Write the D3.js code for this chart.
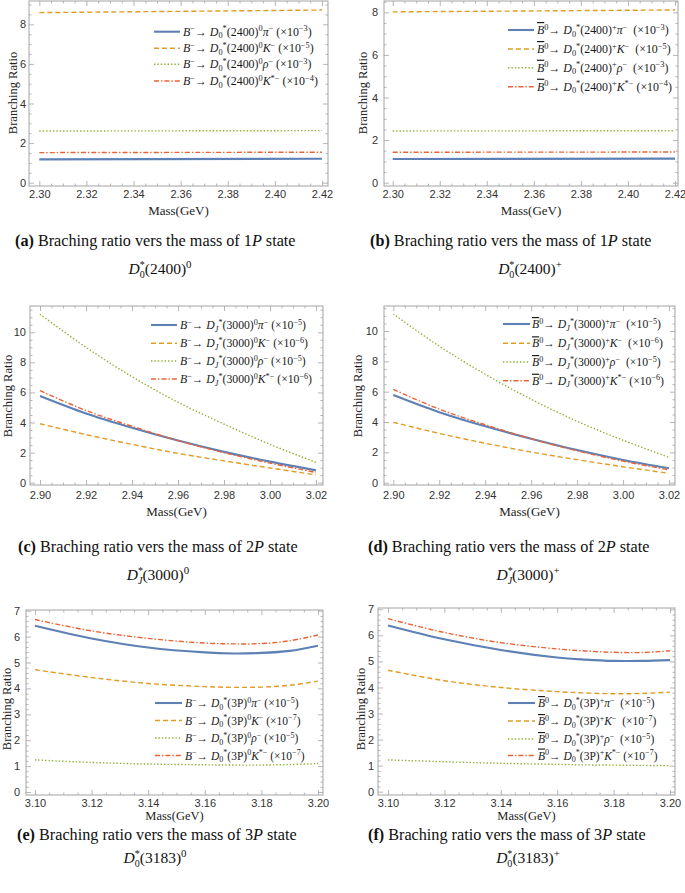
<!DOCTYPE html>
<html><head><meta charset="utf-8">
<script src="https://cdn.jsdelivr.net/npm/d3@7"></script>
<style>body{margin:0;background:#fff} svg text{white-space:pre}</style>
</head><body>
<svg id="chart" width="685" height="893"></svg>
<script>
// ---------------- DATA ----------------
const massA = [2.30, 2.42];
const A_pi = [1.18, 1.21], A_K = [8.59, 8.72], A_rho = [2.61, 2.63], A_Kst = [1.52, 1.54];
const massB = [2.30, 2.42];
const B_pi = [1.11, 1.13], B_K = [8.02, 8.11], B_rho = [2.43, 2.44], B_Kst = [1.43, 1.44];

const massC = [2.90, 2.92, 2.94, 2.96, 2.98, 3.00, 3.02];
const C_pi  = [5.76, 4.60, 3.65, 2.80, 2.05, 1.40, 0.82];
const C_K   = [3.92, 3.20, 2.55, 1.95, 1.45, 0.98, 0.52];
const C_rho = [11.20, 9.00, 7.05, 5.35, 3.90, 2.55, 1.35];
const C_Kst = [6.12, 4.80, 3.75, 2.80, 2.00, 1.30, 0.68];

const massD = [2.90, 2.92, 2.94, 2.96, 2.98, 3.00, 3.02];
const D_pi  = [5.78, 4.65, 3.72, 2.90, 2.15, 1.50, 0.95];
const D_K   = [3.98, 3.25, 2.60, 2.02, 1.52, 1.05, 0.62];
const D_rho = [11.12, 9.00, 7.15, 5.50, 4.05, 2.80, 1.67];
const D_Kst = [6.15, 4.85, 3.82, 2.90, 2.10, 1.42, 0.85];

const massE = [3.10, 3.12, 3.14, 3.16, 3.17, 3.18, 3.19, 3.20];
const E_pi  = [6.42, 5.93, 5.58, 5.39, 5.35, 5.37, 5.45, 5.65];
const E_K   = [4.72, 4.42, 4.19, 4.07, 4.04, 4.05, 4.12, 4.28];
const E_rho = [1.24, 1.14, 1.08, 1.05, 1.04, 1.04, 1.06, 1.10];
const E_Kst = [6.66, 6.22, 5.93, 5.75, 5.72, 5.73, 5.84, 6.06];

const massF = [3.10, 3.12, 3.14, 3.16, 3.17, 3.18, 3.19, 3.20];
const F_pi  = [6.38, 5.85, 5.44, 5.15, 5.07, 5.02, 5.02, 5.05];
const F_K   = [4.66, 4.26, 4.00, 3.84, 3.79, 3.76, 3.77, 3.82];
const F_rho = [1.22, 1.15, 1.09, 1.05, 1.03, 1.02, 1.01, 1.00];
const F_Kst = [6.64, 6.11, 5.72, 5.48, 5.40, 5.35, 5.34, 5.41];

const xTicksA = [2.30, 2.32, 2.34, 2.36, 2.38, 2.40, 2.42];
const xTicksC = [2.90, 2.92, 2.94, 2.96, 2.98, 3.00, 3.02];
const xTicksE = [3.10, 3.12, 3.14, 3.16, 3.18, 3.20];
const yTicksA = [0, 2, 4, 6, 8];
const yTicksC = [0, 2, 4, 6, 8, 10];
const yTicksE = [0, 1, 2, 3, 4, 5, 6, 7];

const legA = ["{B}^{−}→ {D}_{0}^{*}(2400)^{0}{π}^{−} (×10^{−3})",
              "{B}^{−}→ {D}_{0}^{*}(2400)^{0}{K}^{−} (×10^{−5})",
              "{B}^{−}→ {D}_{0}^{*}(2400)^{0}{ρ}^{−} (×10^{−3})",
              "{B}^{−}→ {D}_{0}^{*}(2400)^{0}{K}^{*−} (×10^{−4})"];
const legB = ["~{B}^{0}→ {D}_{0}^{*}(2400)^{+}{π}^{−}  (×10^{−3})",
              "~{B}^{0}→ {D}_{0}^{*}(2400)^{+}{K}^{−}  (×10^{−5})",
              "~{B}^{0}→ {D}_{0}^{*}(2400)^{+}{ρ}^{−}  (×10^{−3})",
              "~{B}^{0}→ {D}_{0}^{*}(2400)^{+}{K}^{*−} (×10^{−4})"];
const legC = ["{B}^{−}→ {D}_[J]^{*}(3000)^{0}{π}^{−} (×10^{−5})",
              "{B}^{−}→ {D}_[J]^{*}(3000)^{0}{K}^{−} (×10^{−6})",
              "{B}^{−}→ {D}_[J]^{*}(3000)^{0}{ρ}^{−} (×10^{−5})",
              "{B}^{−}→ {D}_[J]^{*}(3000)^{0}{K}^{*−} (×10^{−6})"];
const legD = ["~{B}^{0}→ {D}_[J]^{*}(3000)^{+}{π}^{−}  (×10^{−5})",
              "~{B}^{0}→ {D}_[J]^{*}(3000)^{+}{K}^{−}  (×10^{−6})",
              "~{B}^{0}→ {D}_[J]^{*}(3000)^{+}{ρ}^{−}  (×10^{−5})",
              "~{B}^{0}→ {D}_[J]^{*}(3000)^{+}{K}^{*−} (×10^{−6})"];
const legE = ["{B}^{−}→ {D}_{0}^{*}(3P)^{0}{π}^{−} (×10^{−5})",
              "{B}^{−}→ {D}_{0}^{*}(3P)^{0}{K}^{−} (×10^{−7})",
              "{B}^{−}→ {D}_{0}^{*}(3P)^{0}{ρ}^{−} (×10^{−5})",
              "{B}^{−}→ {D}_{0}^{*}(3P)^{0}{K}^{*−} (×10^{−7})"];
const legF = ["~{B}^{0}→ {D}_{0}^{*}(3P)^{+}{π}^{−}  (×10^{−5})",
              "~{B}^{0}→ {D}_{0}^{*}(3P)^{+}{K}^{−}  (×10^{−7})",
              "~{B}^{0}→ {D}_{0}^{*}(3P)^{+}{ρ}^{−}  (×10^{−5})",
              "~{B}^{0}→ {D}_{0}^{*}(3P)^{+}{K}^{*−} (×10^{−7})"];

const capLetters = ["(a)", "(b)", "(c)", "(d)", "(e)", "(f)"];
const capStates  = ["1", "1", "2", "2", "3", "3"];
const capSub     = ["0", "0", "J", "J", "0", "0"];
const capName    = ["(2400)", "(2400)", "(3000)", "(3000)", "(3183)", "(3183)"];
const capCharge  = ["0", "+", "0", "+", "0", "+"];

// ---------------- LAYOUT ----------------
const SERIF = "'Liberation Serif','DejaVu Serif',serif";
const SANS = "'Liberation Sans',Arial,Helvetica,sans-serif";
const FRAME = "#a3a3a3";
const styles = [
  {color: "#5E81B5", width: 2.1, dash: null},
  {color: "#E19C24", width: 1.4, dash: "5,3"},
  {color: "#8FB032", width: 1.4, dash: "1.4,2"},
  {color: "#EB6235", width: 1.4, dash: "5,2,1.4,2"}
];

const layouts = [
  {f:[29,1,328,186], xr:[[2.30,39.3],[2.42,322]], yr:[[0,182.7],[8,24.3]], xMinor:0.005, yMinor:0.5,
   tickBase:198, yLabR:26, xTitleY:215, xTitleFs:13, yTitle:[17,93], legFs:11.9, leg:{lx0:154,lx1:180,tx:183,rows:[31.7,48.3,64.3,81]},
   cap:{x:15,y:246,l2x:160,l2y:274}},
  {f:[384,1,678,186], xr:[[2.30,392.7],[2.42,675]], yr:[[0,182.7],[8,12.3]], xMinor:0.005, yMinor:0.5,
   tickBase:198, yLabR:378, xTitleY:215, xTitleFs:13, yTitle:[367,93], legFs:11.9, leg:{lx0:508,lx1:534,tx:537,rows:[30,49,67.7,86.7]},
   cap:{x:370,y:246,l2x:530,l2y:274}},
  {f:[30,306,323,485], xr:[[2.90,40],[3.02,316]], yr:[[0,482.7],[10,332.3]], xMinor:0.005, yMinor:0.5,
   tickBase:499, yLabR:26, xTitleY:516, xTitleFs:13, yTitle:[12,396], legFs:11.7, leg:{lx0:151,lx1:177,tx:180,rows:[325,343.3,361,379]},
   cap:{x:18,y:552,l2x:158,l2y:580}},
  {f:[384,306,675,485], xr:[[2.90,393.3],[3.02,669]], yr:[[0,482.7],[10,331]], xMinor:0.005, yMinor:0.5,
   tickBase:499, yLabR:378, xTitleY:516, xTitleFs:13, yTitle:[362,396], legFs:11.7, leg:{lx0:503,lx1:530,tx:532,rows:[324,343.3,362,380.7]},
   cap:{x:368,y:552,l2x:528,l2y:580}},
  {f:[26,610,323,795], xr:[[3.10,35],[3.20,318]], yr:[[0,792],[7,610.7]], xMinor:0.005, yMinor:0.2,
   tickBase:806.5, yLabR:20, xTitleY:820, xTitleFs:12.5, yTitle:[11,709], legFs:11.5, leg:{lx0:155,lx1:182,tx:185,rows:[703,720.5,738,755.5]},
   cap:{x:17,y:840,l2x:155,l2y:863}},
  {f:[378,608,675,795], xr:[[3.10,388],[3.20,670]], yr:[[0,791.7],[7,609.3]], xMinor:0.005, yMinor:0.2,
   tickBase:806.5, yLabR:374, xTitleY:820, xTitleFs:12.5, yTitle:[365,709], legFs:11.5, leg:{lx0:508,lx1:535,tx:538,rows:[703,721,739,755.5]},
   cap:{x:368,y:840,l2x:528,l2y:863}}
];

const panels = [
  {m: massA, s: [A_pi, A_K, A_rho, A_Kst], leg: legA, xt: xTicksA, yt: yTicksA},
  {m: massB, s: [B_pi, B_K, B_rho, B_Kst], leg: legB, xt: xTicksA, yt: yTicksA},
  {m: massC, s: [C_pi, C_K, C_rho, C_Kst], leg: legC, xt: xTicksC, yt: yTicksC},
  {m: massD, s: [D_pi, D_K, D_rho, D_Kst], leg: legD, xt: xTicksC, yt: yTicksC},
  {m: massE, s: [E_pi, E_K, E_rho, E_Kst], leg: legE, xt: xTicksE, yt: yTicksE},
  {m: massF, s: [F_pi, F_K, F_rho, F_Kst], leg: legF, xt: xTicksE, yt: yTicksE}
];

const svg = d3.select("#chart");

function parse(s) {
  const re = /~\{([^}]*)\}|\^\{([^}]*)\}|_\{([^}]*)\}|_\[([^\]]*)\]|\{([^}]*)\}|([^{}^_~]+)/g;
  const out = []; let m;
  while ((m = re.exec(s))) {
    if (m[1] !== undefined) out.push(["o", m[1]]);
    else if (m[2] !== undefined) out.push(["^", m[2]]);
    else if (m[3] !== undefined) out.push(["_", m[3]]);
    else if (m[4] !== undefined) out.push(["_i", m[4]]);
    else if (m[5] !== undefined) out.push(["i", m[5]]);
    else out.push(["n", m[6]]);
  }
  return out;
}

function rich(g, x, y, str, fs) {
  const t = g.append("text").attr("x", x).attr("y", y)
    .attr("font-family", SERIF).attr("font-size", fs).attr("fill", "#1a1a1a");
  let cur = 0;
  parse(str).forEach(([k, s]) => {
    const sp = t.append("tspan").text(s);
    let target = 0, size = fs;
    if (k === "^") { target = -0.36 * fs; size = 0.7 * fs; }
    else if (k === "_" || k === "_i") { target = 0.22 * fs; size = 0.7 * fs; }
    if (target !== cur) sp.attr("dy", target - cur);
    cur = target;
    sp.attr("font-size", size);
    if (k === "i" || k === "_i" || k === "o") sp.attr("font-style", "italic");
    if (k === "o") sp.attr("text-decoration", "overline");
  });
  return t;
}

function minorVals(scale, step, majors) {
  const r = scale.range();
  const a = scale.invert(r[0]), b = scale.invert(r[1]);
  const lo = Math.min(a, b), hi = Math.max(a, b);
  const out = [];
  for (let k = Math.ceil(lo / step - 1e-6); k * step <= hi + 1e-9; k++) {
    const v = +(k * step).toFixed(6);
    if (!majors.some(M => Math.abs(M - v) < 1e-6)) out.push(v);
  }
  return out;
}

panels.forEach((p, i) => {
  const L = layouts[i];
  const [x0, y0, x1, y1] = L.f;
  const g = svg.append("g");
  const xs0 = d3.scaleLinear().domain([L.xr[0][0], L.xr[1][0]]).range([L.xr[0][1], L.xr[1][1]]);
  const ys0 = d3.scaleLinear().domain([L.yr[0][0], L.yr[1][0]]).range([L.yr[0][1], L.yr[1][1]]);
  const x = d3.scaleLinear().domain([xs0.invert(x0), xs0.invert(x1)]).range([x0, x1]);
  const y = d3.scaleLinear().domain([ys0.invert(y1), ys0.invert(y0)]).range([y1, y0]);

  const xMin = minorVals(x, L.xMinor, p.xt);
  const yMin = minorVals(y, L.yMinor, p.yt);

  const style = sel => { sel.select(".domain").remove(); sel.selectAll("line").attr("stroke", FRAME).attr("stroke-width", 0.8); };

  const gb = g.append("g").attr("transform", `translate(0,${y1})`)
    .call(d3.axisBottom(x).tickValues(p.xt).tickSizeInner(-5).tickSizeOuter(0)
      .tickPadding(L.tickBase - y1 - 7.8).tickFormat(d3.format(".2f")));
  style(gb);
  gb.selectAll("text").attr("font-family", SANS).attr("font-size", 11).attr("fill", "#333");
  style(g.append("g").attr("transform", `translate(0,${y1})`)
    .call(d3.axisBottom(x).tickValues(xMin).tickSize(-2.5).tickFormat("")));
  style(g.append("g").attr("transform", `translate(0,${y0})`)
    .call(d3.axisTop(x).tickValues(p.xt).tickSize(-5).tickFormat("")));
  style(g.append("g").attr("transform", `translate(0,${y0})`)
    .call(d3.axisTop(x).tickValues(xMin).tickSize(-2.5).tickFormat("")));
  const gl = g.append("g").attr("transform", `translate(${x0},0)`)
    .call(d3.axisLeft(y).tickValues(p.yt).tickSizeInner(-5).tickSizeOuter(0)
      .tickPadding(x0 - L.yLabR).tickFormat(d3.format("d")));
  style(gl);
  gl.selectAll("text").attr("font-family", SANS).attr("font-size", 11).attr("fill", "#333");
  style(g.append("g").attr("transform", `translate(${x0},0)`)
    .call(d3.axisLeft(y).tickValues(yMin).tickSize(-2.5).tickFormat("")));
  style(g.append("g").attr("transform", `translate(${x1},0)`)
    .call(d3.axisRight(y).tickValues(p.yt).tickSize(-5).tickFormat("")));
  style(g.append("g").attr("transform", `translate(${x1},0)`)
    .call(d3.axisRight(y).tickValues(yMin).tickSize(-2.5).tickFormat("")));

  g.append("rect").attr("x", x0).attr("y", y0).attr("width", x1 - x0).attr("height", y1 - y0)
    .attr("fill", "none").attr("stroke", FRAME).attr("stroke-width", 1);

  const line = d3.line().x(d => x(d[0])).y(d => y(d[1])).curve(d3.curveCatmullRom.alpha(0.5));
  p.s.forEach((vals, j) => {
    const st = styles[j];
    g.append("path").datum(p.m.map((m, k) => [m, vals[k]]))
      .attr("d", line).attr("fill", "none").attr("stroke", st.color)
      .attr("stroke-width", st.width).attr("stroke-dasharray", st.dash);
  });

  p.leg.forEach((lab, j) => {
    const st = styles[j];
    const ry = L.leg.rows[j];
    g.append("line").attr("x1", L.leg.lx0).attr("x2", L.leg.lx1).attr("y1", ry).attr("y2", ry)
      .attr("stroke", st.color).attr("stroke-width", st.width).attr("stroke-dasharray", st.dash);
    rich(g, L.leg.tx, ry + 4, lab, L.legFs);
  });

  g.append("text").attr("x", (x0 + x1) / 2).attr("y", L.xTitleY).attr("text-anchor", "middle")
    .attr("font-family", SERIF).attr("font-size", L.xTitleFs).attr("fill", "#222").text("Mass(GeV)");
  g.append("text").attr("transform", `translate(${L.yTitle[0]},${L.yTitle[1]}) rotate(-90)`)
    .attr("text-anchor", "middle").attr("font-family", SERIF).attr("font-size", 12.5)
    .attr("fill", "#222").text("Branching Ratio");

  const c1 = g.append("text").attr("x", L.cap.x).attr("y", L.cap.y)
    .attr("font-family", SERIF).attr("font-size", 16.2).attr("fill", "#111");
  c1.append("tspan").attr("font-weight", "bold").text(capLetters[i]);
  c1.append("tspan").text(" Braching ratio vers the mass of " + capStates[i]);
  c1.append("tspan").attr("font-style", "italic").text("P");
  c1.append("tspan").text(" state");

  const fs = 15.5;
  const c2 = g.append("text").attr("x", L.cap.l2x).attr("y", L.cap.l2y).attr("text-anchor", "middle")
    .attr("font-family", SERIF).attr("font-size", fs).attr("fill", "#111");
  c2.append("tspan").attr("font-style", "italic").text("D");
  const sup = c2.append("tspan").attr("font-size", fs * 0.65).attr("dy", -0.4 * fs).text("*");
  const w = sup.node().getComputedTextLength();
  const sub = c2.append("tspan").attr("font-size", fs * 0.65).attr("dx", -w).attr("dy", 0.66 * fs).text(capSub[i]);
  if (capSub[i] === "J") sub.attr("font-style", "italic");
  c2.append("tspan").attr("dy", -0.26 * fs).text(capName[i]);
  c2.append("tspan").attr("font-size", fs * 0.7).attr("dy", -0.38 * fs).text(capCharge[i]);
});
</script>
</body></html>
